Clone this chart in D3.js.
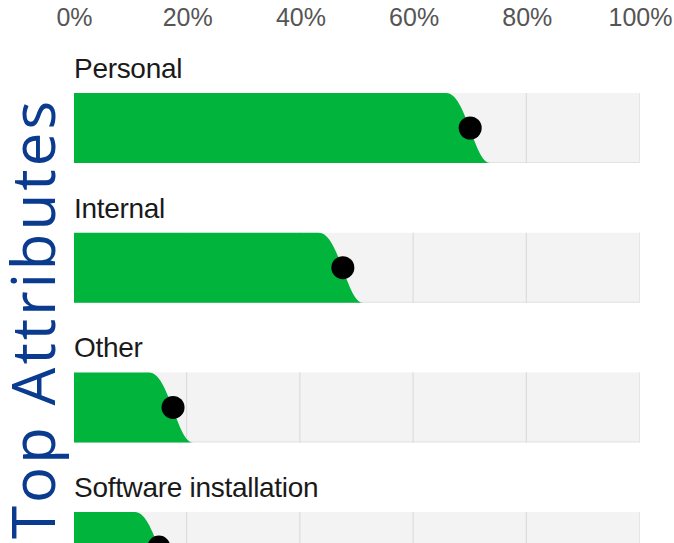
<!DOCTYPE html>
<html>
<head>
<meta charset="utf-8">
<script src="https://cdn.jsdelivr.net/npm/d3@7"></script>
<style>
  html, body { margin: 0; padding: 0; background: #ffffff; }
  svg { display: block; }
</style>
</head>
<body>
<svg id="chart" width="674" height="543"></svg>
<script>
const categories = ["Personal", "Internal", "Other", "Software installation"];
const values = [70, 47.5, 17.5, 15];
const tickValues = [0, 20, 40, 60, 80, 100];
const tickLabels = ["0%", "20%", "40%", "60%", "80%", "100%"];
const gridValues = [20, 40, 60, 80];
const titleText = "Top Attributes";

const svg = d3.select("#chart");

const x = d3.scaleLinear().domain([0, 100]).range([74, 640]);
const rowStep = 139.7;
const y = d3.scaleBand()
  .domain(categories)
  .range([93, 93 + rowStep * categories.length])
  .paddingInner(0).paddingOuter(0);
const barH = 70;

// Axis
const axis = d3.axisTop(x)
  .tickValues(tickValues)
  .tickFormat((d, i) => tickLabels[i])
  .tickSize(0)
  .tickPadding(0);
const gAxis = svg.append("g").attr("transform", "translate(0,26)").call(axis);
gAxis.select(".domain").remove();
gAxis.selectAll("text")
  .attr("font-family", "'Liberation Sans', Arial, sans-serif")
  .attr("font-size", 25)
  .attr("fill", "#555555");

const rows = svg.append("g").selectAll("g.row")
  .data(categories.map((c, i) => ({ c, v: values[i] })))
  .join("g").attr("class", "row");

// background track
rows.append("rect")
  .attr("x", x(0))
  .attr("y", d => y(d.c))
  .attr("width", x(100) - x(0))
  .attr("height", barH)
  .attr("fill", "#f3f3f3");

// bottom faint edge
rows.append("line")
  .attr("x1", x(0)).attr("x2", x(100))
  .attr("y1", d => y(d.c) + barH - 0.5).attr("y2", d => y(d.c) + barH - 0.5)
  .attr("stroke", "#e2e2e2").attr("stroke-width", 1);

// grid lines
rows.each(function(d) {
  d3.select(this).selectAll("line.grid")
    .data(gridValues.concat([100]))
    .join("line").attr("class", "grid")
    .attr("x1", g => x(g) - 0.5).attr("x2", g => x(g) - 0.5)
    .attr("y1", y(d.c)).attr("y2", y(d.c) + barH)
    .attr("stroke", g => g === 100 ? "#e6e6e6" : "#d8d8d8")
    .attr("stroke-width", 1);
});

// green shape with S-curve end
rows.append("path")
  .attr("fill", "#00b43c")
  .attr("d", d => {
    const top = y(d.c), bot = top + barH;
    const px = x(d.v);
    const a = px - 24, b = px + 20;
    return `M${x(0)},${top} L${a},${top} C${a + 20},${top} ${b - 16},${bot} ${b},${bot} L${x(0)},${bot} Z`;
  });

// dot
rows.append("circle")
  .attr("cx", d => x(d.v))
  .attr("cy", d => y(d.c) + barH / 2)
  .attr("r", 11.5)
  .attr("fill", "#000000");

// category labels
rows.append("text")
  .attr("x", x(0))
  .attr("y", d => y(d.c) - 15)
  .attr("font-family", "'Liberation Sans', Arial, sans-serif")
  .attr("font-size", 28)
  .attr("letter-spacing", -0.3)
  .attr("fill", "#1a1a1a")
  .text(d => d.c);

// vertical title
svg.append("text")
  .attr("transform", "translate(55,101) rotate(-90)")
  .attr("text-anchor", "end")
  .attr("font-family", "'Open Sans', sans-serif")
  .attr("font-size", 60)
  .attr("textLength", 438)
  .attr("lengthAdjust", "spacing")
  .attr("fill", "#0b3b8f")
  .text(titleText);
</script>
</body>
</html>
